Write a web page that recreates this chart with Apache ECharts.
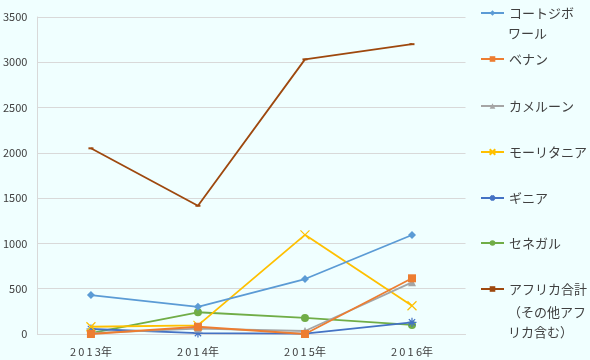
<!DOCTYPE html>
<html><head><meta charset="utf-8">
<script src="https://cdn.jsdelivr.net/npm/echarts@6/dist/echarts.min.js"></script>
<style>html,body{margin:0;padding:0;background:#F0FFFF;}#c{width:590px;height:360px;}</style>
</head><body><div id="c"></div>
<script>
const categories = ['2013年', '2014年', '2015年', '2016年'];
const seriesNames = ['コートジボワール', 'ベナン', 'カメルーン', 'モーリタニア', 'ギニア', 'セネガル', 'アフリカ合計（その他アフリカ含む）'];
const coteDIvoire = [430, 300, 607, 1093];
const benin = [0, 80, 0, 615];
const cameroon = [10, 60, 33, 570];
const mauritania = [80, 95, 1095, 312];
const guinea = [55, 10, 5, 129];
const senegal = [10, 240, 177, 100];
const africaTotal = [2050, 1416, 3032, 3200];
const legendLabels = [['コートジボ', 'ワール'], ['ベナン'], ['カメルーン'], ['モーリタニア'], ['ギニア'], ['セネガル'], ['アフリカ合計', '（その他アフ', 'リカ含む）']];

const colors = ['#5B9BD5', '#ED7D31', '#A5A5A5', '#FFC000', '#4472C4', '#70AD47', '#9E480E'];
const symbols = ['diamond', 'rect', 'triangle',
  'path://M0,0L10,10M10,0L0,10',
  'path://M0,5L10,5M5,0L5,10M1.5,1.5L8.5,8.5M8.5,1.5L1.5,8.5',
  'circle', 'rect'];
const symbolSizes = [8, 8, 8, 9, 9, 8, [5, 2]];
const dataArr = [coteDIvoire, benin, cameroon, mauritania, guinea, senegal, africaTotal];
const legendTops = [13, 59, 106, 152, 198, 243, 289];
const extraLineOffsets = [[21], [], [], [], [], [], [24, 44]];

const chart = echarts.init(document.getElementById('c'));
const font = '"Noto Sans CJK JP", sans-serif';
const txtColor = '#404040';
const series = seriesNames.map((n, i) => ({
  name: n, type: 'line', data: dataArr[i],
  symbol: symbols[i], symbolSize: symbolSizes[i], showSymbol: true,
  lineStyle: {color: colors[i], width: 1.8},
  itemStyle: {color: colors[i], borderColor: colors[i], borderWidth: (i === 3 || i === 4) ? 1.2 : 0},
  emphasis: {disabled: true}, z: 10 - i
}));
const legends = seriesNames.map((n, i) => ({
  data: [n], orient: 'vertical', left: 480, top: legendTops[i] - 8, padding: 0,
  itemWidth: 23, itemHeight: 7, itemGap: 0,
  formatter: () => legendLabels[i][0],
  textStyle: {fontFamily: font, fontSize: 13, color: txtColor, lineHeight: 16},
  selectedMode: false
}));
const graphics = [];
legendLabels.forEach((lines, i) => {
  lines.slice(1).forEach((t, k) => {
    graphics.push({type: 'text', left: 508, top: legendTops[i] + extraLineOffsets[i][k] - 7,
      style: {text: t, font: '13px ' + font, fill: txtColor}, silent: true});
  });
});
chart.setOption({
  backgroundColor: '#F0FFFF',
  animation: false,
  grid: {left: 37, right: 124.5, top: 17, bottom: 26, containLabel: false},
  xAxis: {type: 'category', data: categories, boundaryGap: true,
    axisLine: {lineStyle: {color: '#D9D9D9'}}, axisTick: {show: false},
    axisLabel: {fontFamily: font, fontSize: 11, color: txtColor, margin: 12,
      formatter: v => v.replace(/(\d)(?=\d)/g, '$1\u2009')}},
  yAxis: {type: 'value', min: 0, max: 3500, interval: 500,
    axisLine: {show: true, lineStyle: {color: '#D9D9D9'}}, axisTick: {show: false},
    splitLine: {lineStyle: {color: '#D9D9D9'}},
    axisLabel: {fontFamily: font, fontSize: 11, color: txtColor, margin: 10, formatter: v => String(v)}},
  legend: legends,
  graphic: graphics,
  series: series
});
</script></body></html>
